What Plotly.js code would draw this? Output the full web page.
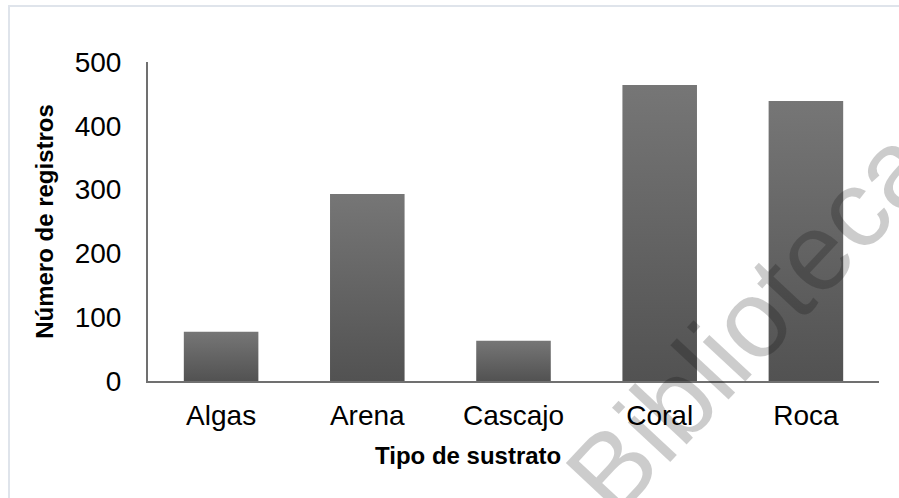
<!DOCTYPE html>
<html>
<head>
<meta charset="utf-8">
<script src="https://cdn.plot.ly/plotly-3.0.1.min.js"></script>
<style>
  html, body { margin: 0; padding: 0; background: #fff; overflow: hidden; }
  #wrap { position: relative; width: 899px; height: 498px; }
  #chart { width: 899px; height: 498px; }
  #frame {
    position: absolute; left: 8px; top: 5px; width: 920px; height: 520px;
    border-top: 2px solid #dfe4eb; border-left: 2px solid #dfe4eb;
    pointer-events: none;
  }
</style>
</head>
<body>
<div id="wrap">
  <div id="chart"></div>
  <div id="frame"></div>
</div>
<script>
// Registros por tipo de sustrato
const categories = ['Algas', 'Arena', 'Cascajo', 'Coral', 'Roca'];
const registros = [77, 293, 63, 464, 439];
const yTicks = [0, 100, 200, 300, 400, 500];

const font = 'Arial, "Liberation Sans", sans-serif';

const trace = {
  type: 'bar',
  x: categories,
  y: registros,
  marker: { color: '#636363', line: { width: 0 } },
  hoverinfo: 'x+y'
};

const layout = {
  width: 899,
  height: 498,
  margin: { l: 148, r: 20, t: 62, b: 117 },
  paper_bgcolor: 'rgba(0,0,0,0)',
  plot_bgcolor: 'rgba(0,0,0,0)',
  showlegend: false,
  bargap: 0.49,
  font: { family: font, color: '#000' },
  xaxis: {
    type: 'category',
    showline: true, linecolor: '#707070', linewidth: 2,
    showgrid: false, zeroline: false,
    ticks: '', ticklabelstandoff: 8,
    tickfont: { family: font, size: 28, color: '#000' },
    automargin: false
  },
  yaxis: {
    range: [0, 500],
    tickvals: yTicks,
    showline: true, linecolor: '#707070', linewidth: 2,
    showgrid: false, zeroline: false,
    ticks: '', ticklabelstandoff: 19,
    tickfont: { family: font, size: 28, color: '#000' },
    title: { text: 'Número de registros', standoff: 14,
             font: { family: font, size: 24, color: '#000', weight: 'bold' } },
    automargin: false
  },
  annotations: [
    {
      // x-axis caption, set a little left of the plot centre
      text: '<b>Tipo de sustrato</b>',
      xref: 'paper', yref: 'paper',
      x: 0.438, y: -0.232,
      xanchor: 'center', yanchor: 'middle',
      showarrow: false,
      font: { family: font, size: 24, color: '#000' }
    },
    {
      text: 'Biblioteca',
      xref: 'paper', yref: 'paper',
      x: 0.823, y: 0.19,
      xanchor: 'center', yanchor: 'middle',
      showarrow: false,
      textangle: -47,
      font: { family: font, size: 110, color: 'rgba(0,0,0,0.2)' }
    }
  ]
};

Plotly.newPlot('chart', [trace], layout, { displayModeBar: false, staticPlot: true }).then(gd => {
  // vertical shading on the bars: lighter at the top, darker at the base
  const svg = gd.querySelector('svg.main-svg');
  const ns = 'http://www.w3.org/2000/svg';
  let defs = svg.querySelector('defs');
  if (!defs) { defs = document.createElementNS(ns, 'defs'); svg.insertBefore(defs, svg.firstChild); }
  const grad = document.createElementNS(ns, 'linearGradient');
  grad.setAttribute('id', 'barShade');
  grad.setAttribute('x1', '0'); grad.setAttribute('y1', '0');
  grad.setAttribute('x2', '0'); grad.setAttribute('y2', '1');
  [['0', '#767676'], ['1', '#525252']].forEach(([o, c]) => {
    const s = document.createElementNS(ns, 'stop');
    s.setAttribute('offset', o); s.setAttribute('stop-color', c);
    grad.appendChild(s);
  });
  defs.appendChild(grad);
  gd.querySelectorAll('.barlayer .point path').forEach(p => {
    p.style.fill = 'url(#barShade)';
  });
});
</script>
</body>
</html>
